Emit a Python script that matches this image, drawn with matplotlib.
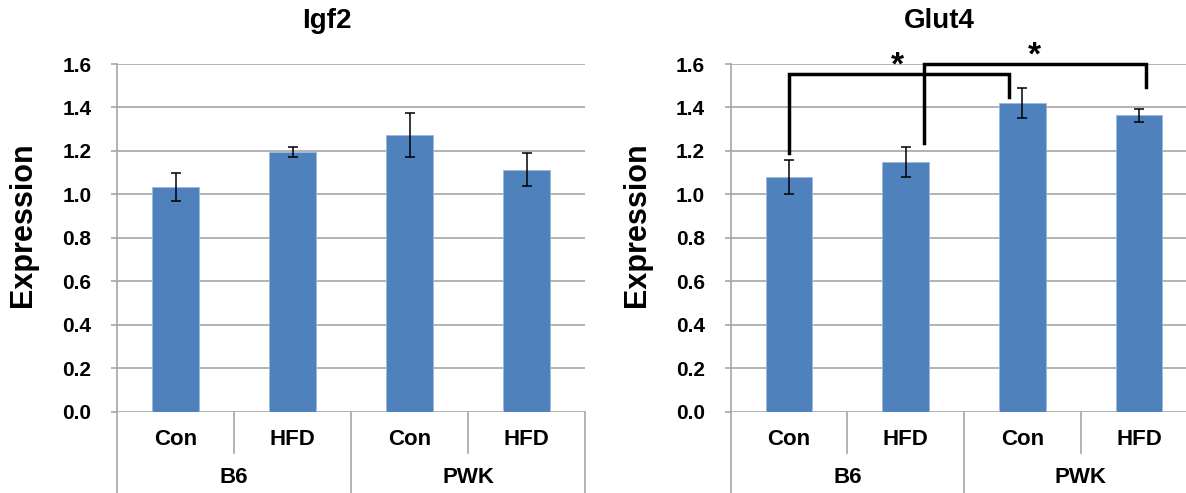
import numpy as np
import matplotlib
matplotlib.use('Agg')
import matplotlib.pyplot as plt

plt.rcParams['font.family'] = ['Liberation Sans', 'DejaVu Sans']
plt.rcParams['font.weight'] = 'bold'

# Data
diets = ['Con', 'HFD', 'Con', 'HFD']
strains = ['B6', 'PWK']
titles = ['Igf2', 'Glut4']

igf2_mean = [1.035, 1.196, 1.272, 1.114]
igf2_err = [0.064, 0.024, 0.101, 0.076]

glut4_mean = [1.080, 1.149, 1.421, 1.365]
glut4_err = [0.077, 0.068, 0.070, 0.030]

# significance brackets on Glut4: left x, left leg bottom, top, right x, right leg bottom
brackets = [(0.0, 1.19, 1.554, 1.89, 1.447),
            (1.16, 1.238, 1.60, 3.06, 1.493)]
stars = [(0.93, 1.592), (2.10, 1.636)]

W, H = 1186, 493
bar_color = '#4F81BD'
grid_color = '#A6A6A6'

fig = plt.figure(figsize=(W / 100, H / 100), dpi=100)
ax1 = fig.add_axes([117 / W, 1 - 411.7 / H, 468 / W, 347.7 / H])
ax2 = fig.add_axes([730.7 / W, 1 - 411.7 / H, 466.6 / W, 347.7 / H])

x = np.arange(len(diets))

for ax, mean, err in [(ax1, igf2_mean, igf2_err), (ax2, glut4_mean, glut4_err)]:
    ax.bar(x, mean, width=0.4, color=bar_color, edgecolor='#9DB9DC',
           linewidth=0.6, zorder=2)
    ax.errorbar(x, mean, yerr=err, fmt='none', ecolor='black',
                elinewidth=1.1, capsize=3.5, capthick=1.1, zorder=3)
    ax.set_xlim(-0.5, 3.5)
    ax.set_ylim(0, 1.6)
    yt = np.arange(0, 1.61, 0.2)
    ax.set_yticks(yt)
    ax.set_yticklabels([f'{v:.1f}' for v in yt], fontsize=15, fontweight='bold')
    ax.set_xticks([])
    ax.grid(axis='y', color=grid_color, linewidth=1.2, zorder=0)
    ax.set_axisbelow(True)
    for s in ['top', 'right', 'bottom']:
        ax.spines[s].set_visible(False)
    ax.spines['left'].set_color(grid_color)
    ax.spines['left'].set_linewidth(1.2)
    ax.tick_params(axis='y', length=4.5, width=1.2, color=grid_color, pad=14)

    # two-level category axis
    tr = ax.get_xaxis_transform()
    for xs in [-0.5, 1.5, 3.5]:
        ax.plot([xs, xs], [0, -0.26], color=grid_color, lw=1.2,
                transform=tr, clip_on=False)
    for xs in [0.5, 2.5]:
        ax.plot([xs, xs], [0, -0.118], color=grid_color, lw=1.2,
                transform=tr, clip_on=False)
    for i, d in enumerate(diets):
        ax.text(i, -0.081, d, transform=tr, ha='center', va='center',
                fontsize=16, fontweight='bold')
    for j, s in enumerate(strains):
        ax.text(2 * j + 0.5, -0.19, s, transform=tr, ha='center',
                va='center', fontsize=16, fontweight='bold')

# brackets and stars
for x0, b0, top, x1, b1 in brackets:
    ax2.plot([x0, x0, x1, x1], [b0, top, top, b1], color='black', lw=2.5,
             clip_on=False, solid_joinstyle='miter', zorder=4)
for sx, sy in stars:
    ax2.text(sx, sy, '*', ha='center', va='center', fontsize=24,
             fontweight='bold', clip_on=False)

# titles and axis labels
fig.text(327 / W, 1 - 21 / H, titles[0], ha='center', va='center',
         fontsize=20, fontweight='bold')
fig.text(939 / W, 1 - 21 / H, titles[1], ha='center', va='center',
         fontsize=20, fontweight='bold')
fig.text(23 / W, 1 - 225 / H, 'Expression', rotation=90, ha='center',
         va='center', fontsize=22, fontweight='bold')
fig.text(637 / W, 1 - 225 / H, 'Expression', rotation=90, ha='center',
         va='center', fontsize=22, fontweight='bold')

fig.savefig('out.png', dpi=100)
